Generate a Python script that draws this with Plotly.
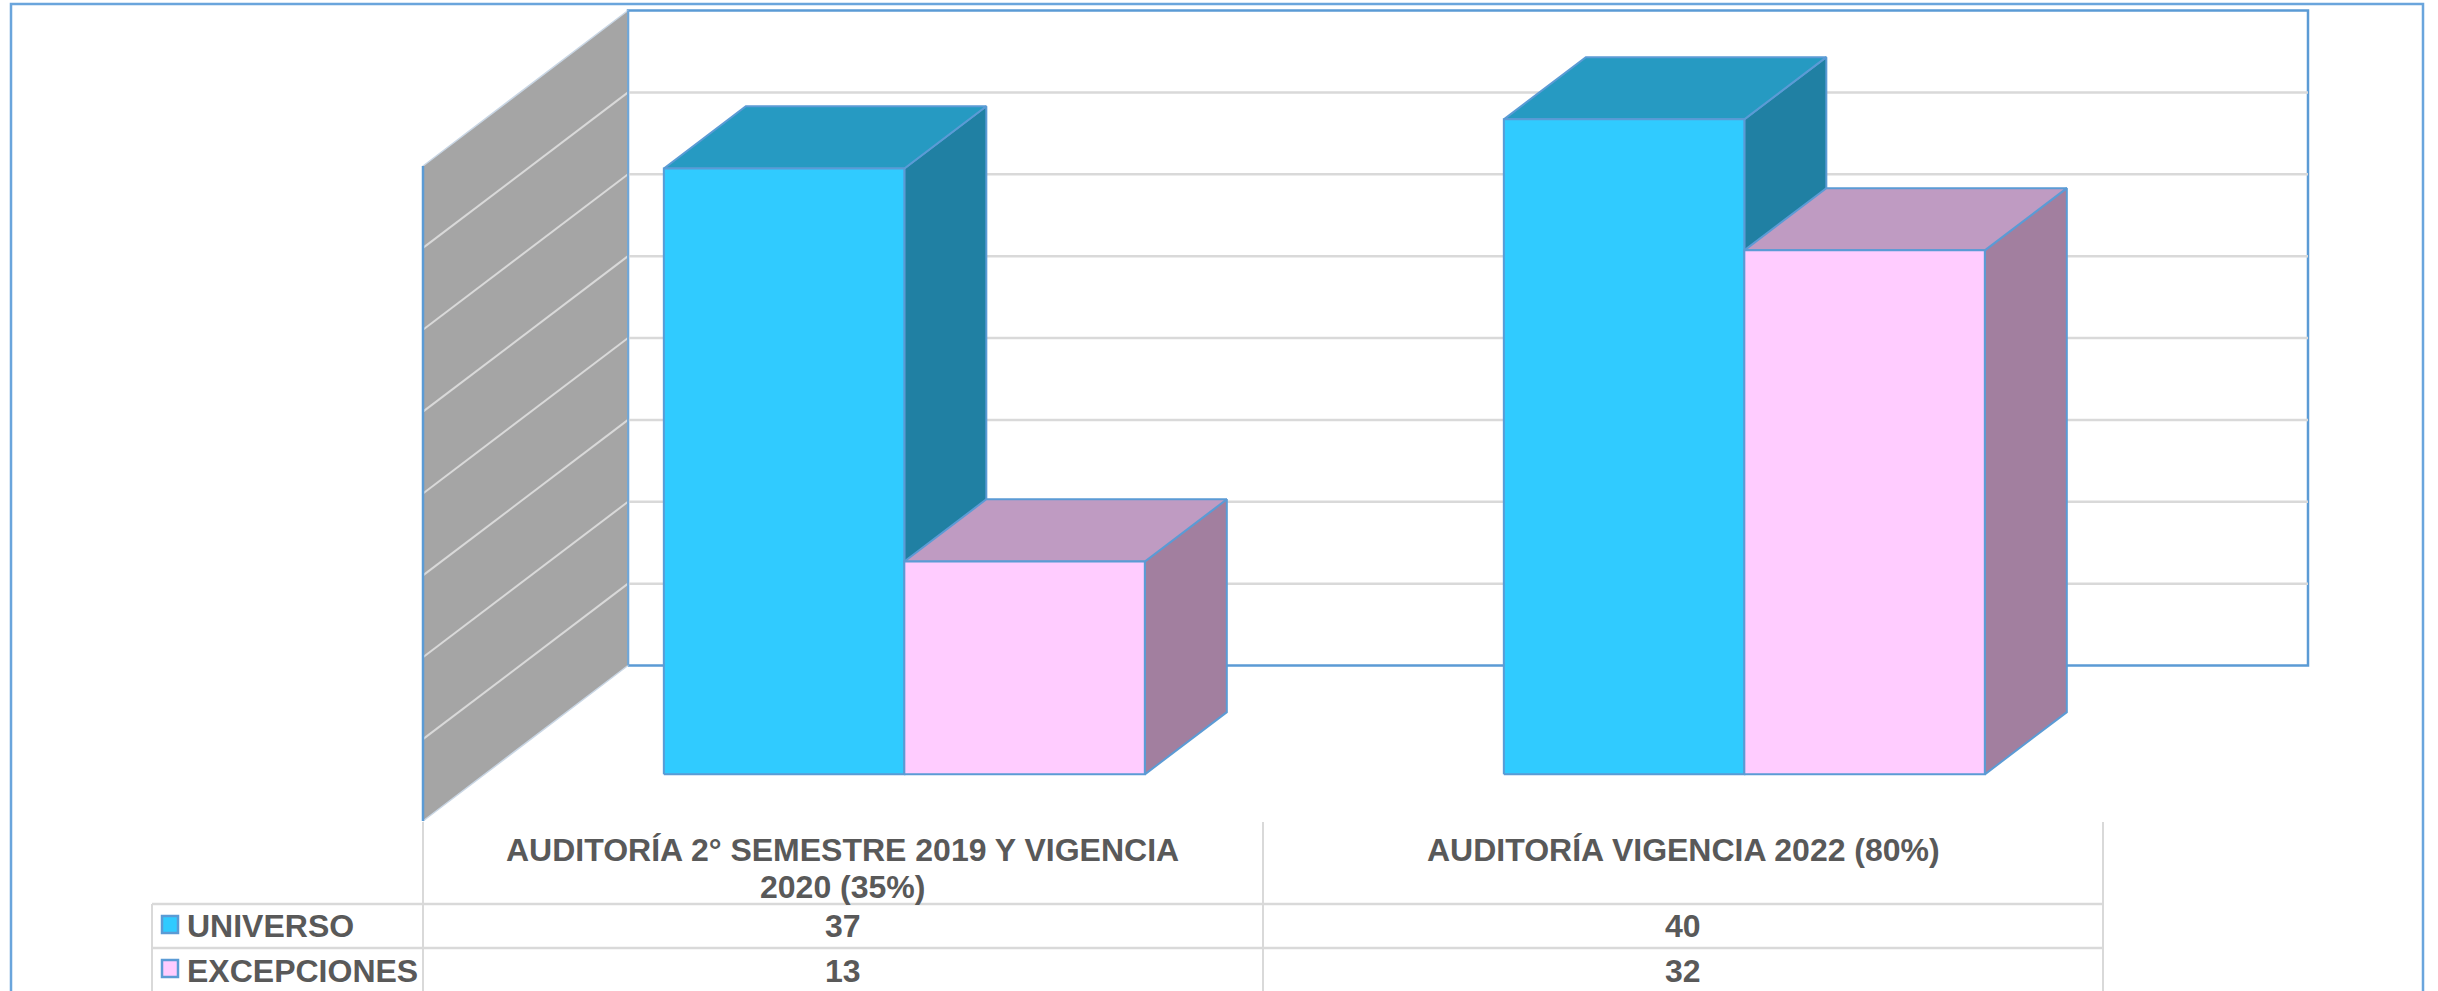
import plotly.graph_objects as go

# ---- data ----
categories = [["AUDITORÍA 2° SEMESTRE 2019 Y VIGENCIA", "2020 (35%)"], ["AUDITORÍA VIGENCIA 2022 (80%)"]]
universo = [37, 40]
excepciones = [13, 32]
series_names = ["UNIVERSO", "EXCEPCIONES"]
value_ticks = [0, 5, 10, 15, 20, 25, 30, 35, 40]

# ---- colours / style ----
EDGE = "#5B9BD5"
GRID = "#D9D9D9"
WALL = "#A5A5A5"
TEXT = "#595959"
FACES = {
    "UNIVERSO": ("#30CBFF", "#269AC2", "#2080A3"),
    "EXCEPCIONES": ("#FFCCFF", "#BF9BC2", "#A27F9F"),
}

# ---- page geometry ----
W, H = 2438, 991
X0_PX, CAT_PX = 423, 840      # pixel of category axis origin, pixels per category
Y0_PX, UNIT_PX = 821, 16.375  # pixel of value 0, pixels per value unit
DEPTH_X = 205 / CAT_PX        # oblique shift of the depth axis, in axis units
DEPTH_Y = 155.5 / UNIT_PX
BAR_OFFSET, BAR_W = 0.2135, 0.2863
Z_FRONT, Z_BACK = 0.30, 0.70
FONT_PX = 32
LINE_PX = 37


def proj(x, v, z):
    return x + DEPTH_X * z, v + DEPTH_Y * z


def poly(points, fill, line=EDGE, lw=2):
    pts = [proj(*p) for p in points] + [proj(*points[0])]
    return go.Scatter(x=[p[0] for p in pts], y=[p[1] for p in pts], mode="lines",
                      fill="toself", fillcolor=fill,
                      line=dict(color=line, width=lw), hoverinfo="skip", showlegend=False)


def seg(a, b, color, lw):
    pa, pb = proj(*a), proj(*b)
    return go.Scatter(x=[pa[0], pb[0]], y=[pa[1], pb[1]], mode="lines",
                      line=dict(color=color, width=lw), hoverinfo="skip", showlegend=False)


def px_x(p):
    return p / W


def px_y(p):
    return 1 - p / H


fig = go.Figure()
vmax = max(value_ticks)
xmax = len(categories)

# back wall
fig.add_trace(poly([(0, 0, 1), (xmax, 0, 1), (xmax, vmax, 1), (0, vmax, 1)], "#FFFFFF", EDGE, 2.5))
for v in value_ticks[1:-1]:
    fig.add_trace(seg((0, v, 1), (xmax, v, 1), GRID, 2.5))
# side wall
fig.add_trace(poly([(0, 0, 0), (0, 0, 1), (0, vmax, 1), (0, vmax, 0)], WALL, "#C9D6E4", 1.5))
for v in value_ticks[1:-1]:
    fig.add_trace(seg((0, v, 0), (0, v, 1), GRID, 2))
fig.add_trace(seg((0, 0, 0), (0, vmax, 0), EDGE, 2.5))
fig.add_trace(seg((0, 0, 1), (0, vmax, 1), EDGE, 1.5))

# bars
for i in range(len(categories)):
    for s, (name, vals) in enumerate(zip(series_names, [universo, excepciones])):
        front, top, side = FACES[name]
        x1 = i + BAR_OFFSET + s * BAR_W
        x2 = x1 + BAR_W
        v = vals[i]
        fig.add_trace(poly([(x2, 0, Z_FRONT), (x2, 0, Z_BACK), (x2, v, Z_BACK), (x2, v, Z_FRONT)], side))
        fig.add_trace(poly([(x1, v, Z_FRONT), (x2, v, Z_FRONT), (x2, v, Z_BACK), (x1, v, Z_BACK)], top))
        fig.add_trace(poly([(x1, 0, Z_FRONT), (x2, 0, Z_FRONT), (x2, v, Z_FRONT), (x1, v, Z_FRONT)], front))

shapes = []


def rule(x1, y1, x2, y2, color=GRID, width=2):
    shapes.append(dict(type="line", xref="paper", yref="paper", x0=px_x(x1), x1=px_x(x2),
                       y0=px_y(y1), y1=px_y(y2), line=dict(color=color, width=width)))


# data table
col_px = [X0_PX + CAT_PX * k for k in range(len(categories) + 1)]
ROW_PX = [904, 948, 992]
KEY_LEFT, TABLE_TOP = 152, 822
for c in col_px:
    rule(c, TABLE_TOP, c, H)
rule(KEY_LEFT, ROW_PX[0], KEY_LEFT, H)
for r in ROW_PX[:2]:
    rule(KEY_LEFT, r, col_px[-1], r, width=2.5)

# outer chart frame
shapes.append(dict(type="rect", xref="paper", yref="paper", x0=px_x(11), x1=px_x(2423),
                   y0=px_y(1100), y1=px_y(4), line=dict(color="#6AA5DC", width=2.5)))

# legend keys
for r, name in enumerate(series_names):
    top_px = ROW_PX[r] + 12
    shapes.append(dict(type="rect", xref="paper", yref="paper",
                       x0=px_x(162), x1=px_x(178), y0=px_y(top_px), y1=px_y(top_px + 17),
                       fillcolor=FACES[name][0], line=dict(color=EDGE, width=2.5)))

ann = []


def label(text, xp, yp, anchor="center"):
    ann.append(dict(text=text, xref="paper", yref="paper", x=px_x(xp), y=px_y(yp),
                    xanchor=anchor, yanchor="middle", showarrow=False,
                    font=dict(family="Liberation Sans", size=FONT_PX, color=TEXT, weight="bold")))


for k, lines in enumerate(categories):
    centre = (col_px[k] + col_px[k + 1]) / 2
    for n, text in enumerate(lines):
        label(text, centre, 850 + n * LINE_PX)
    label(str(universo[k]), centre, 926)
    label(str(excepciones[k]), centre, 971)
label(series_names[0], 185, 926, "left")
label(series_names[1], 185, 971, "left")

fig.update_layout(
    width=W, height=H, margin=dict(l=0, r=0, t=0, b=0), autosize=False,
    paper_bgcolor="#FFFFFF", plot_bgcolor="#FFFFFF", showlegend=False,
    xaxis=dict(visible=False, range=[-X0_PX / CAT_PX, (W - X0_PX) / CAT_PX], fixedrange=True),
    yaxis=dict(visible=False, range=[-(H - Y0_PX) / UNIT_PX, Y0_PX / UNIT_PX], fixedrange=True),
    shapes=shapes, annotations=ann,
)
fig.write_html("out.html", post_script="document.body.style.margin='0';document.documentElement.style.overflow='hidden';",
               config=dict(displayModeBar=False))
